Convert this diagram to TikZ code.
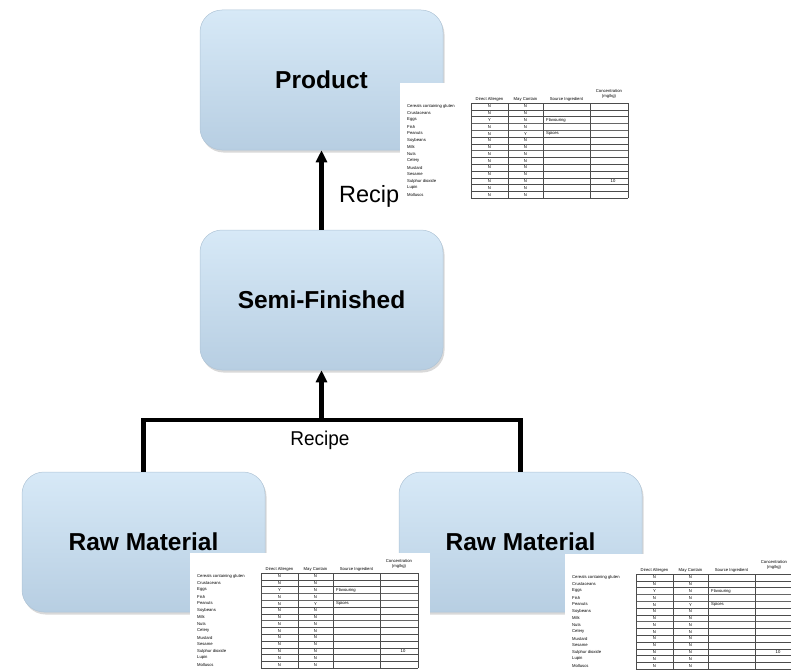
\documentclass[tikz,border=0pt]{standalone}
\usepackage{fontspec}
\setmainfont{Liberation Sans}
\usetikzlibrary{arrows.meta,shadows}
\definecolor{boxtop}{HTML}{D7E9F7}
\definecolor{boxbot}{HTML}{B7CEE2}
\definecolor{boxedge}{HTML}{AFC4D6}
\tikzset{
  stage/.style={rounded corners=22pt, minimum width=243pt, minimum height=140pt,
    top color=boxtop, bottom color=boxbot, draw=boxedge, line width=0.5pt,
    font=\bfseries\fontsize{24.5}{28}\selectfont, inner sep=0pt,
    drop shadow={opacity=0.3, shadow xshift=1.5pt, shadow yshift=-2.5pt}},
  conn/.style={line width=4.5pt, draw=black},
  tip/.style={-{Triangle[width=11pt,length=12pt]}},
  lbl/.style={font=\fontsize{20}{24}\selectfont, inner sep=0pt},
  tcell/.style={font=\fontsize{4.2}{5}\selectfont, inner sep=0pt},
  tline/.style={line width=0.3pt, draw=black!70},
  allergens/.pic={
    \fill[white] (-7,-20) rectangle (233,107);
    \foreach \k in {0,...,14} {
      \pgfmathsetmacro\yk{\k*6.79}
      \draw[tline] (64,\yk) -- (221,\yk);
    }
    \foreach \k in {3,4,7} {
      \pgfmathsetmacro\yk{\k*6.79}
      \draw[line width=0.9pt, draw=black!60] (64,\yk) -- (221,\yk);
    }
    \foreach \xx in {64,101,136,183,221} \draw[tline] (\xx,0) -- (\xx,95);
    \node[tcell] (-h1) at (82.5,-3.5) {Direct Allergen};
    \node[tcell] (-h2) at (118.5,-3.5) {May Contain};
    \node[tcell] (-h3) at (159.5,-3.5) {Source Ingredient};
    \node[tcell] (-h4) at (202,-12) {Concentration};
    \node[tcell] (-h5) at (202,-6.5) {(mg/kg)};
    \foreach \lab/\a/\b/\s/\c [count=\i] in {
      Cereals containing gluten/N/N/{}/{},
      Crustaceans/N/N/{}/{},
      Eggs/Y/N/Flavouring/{},
      Fish/N/N/{}/{},
      Peanuts/N/Y/Spices/{},
      Soybeans/N/N/{}/{},
      Milk/N/N/{}/{},
      Nuts/N/N/{}/{},
      Celery/N/N/{}/{},
      Mustard/N/N/{}/{},
      Sesame/N/N/{}/{},
      Sulphur dioxide/N/N/{}/10,
      Lupin/N/N/{}/{},
      Molluscs/N/N/{}/{}} {
      \pgfmathsetmacro\yy{3.4+(\i-1)*6.79}
      \node[tcell, anchor=west] (-lab\i) at (0,\yy) {\lab};
      \node[tcell] (-da\i) at (82.5,\yy) {\a};
      \node[tcell] (-mc\i) at (118.5,\yy) {\b};
      \node[tcell, anchor=west] (-si\i) at (139,\yy) {\s};
      \node[tcell] (-co\i) at (206,\yy) {\c};
    }
  }
}
\begin{document}
\begin{tikzpicture}[x=1pt, y=-1pt]
  \useasboundingbox (0,0) rectangle (791,669);
  \clip (0,0) rectangle (791,669);

  \node[stage] (prod) at (321.5,80) {Product};
  \node[stage] (semi) at (321.5,300) {Semi-Finished};
  \node[stage] (rawL) at (143.5,542) {Raw Material};
  \node[stage] (rawR) at (520.5,542) {Raw Material};

  \coordinate (j) at (321.5,420);
  \draw[conn] (rawL.north) |- (j) -| (rawR.north);
  \draw[conn, tip] (j) -- (semi.south);
  \draw[conn, tip] (semi.north) -- (prod.south);

  \node[lbl, font=\fontsize{23.5}{27}\selectfont, anchor=west] (rec1) at (339,196) {Recipe};
  \node[lbl, xscale=0.95] (rec2) at (320,440) {Recipe};

  \pic (tabP) at (407,103) {allergens};
  \pic (tabL) at (197,573) {allergens};
  \pic (tabR) at (572,574) {allergens};
\end{tikzpicture}
\end{document}
